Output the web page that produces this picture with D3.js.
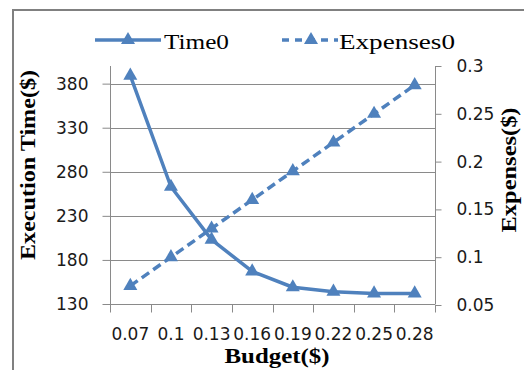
<!DOCTYPE html>
<html>
<head>
<meta charset="utf-8">
<script src="https://cdn.jsdelivr.net/npm/d3@7"></script>
<style>
  html, body { margin: 0; padding: 0; background: #fff; }
</style>
</head>
<body>
<div id="chart"></div>
<script>
const budgets = ["0.07", "0.1", "0.13", "0.16", "0.19", "0.22", "0.25", "0.28"];
const time0 = [389, 263, 203, 167, 149, 144, 142, 142];
const expenses0 = [0.07, 0.1, 0.13, 0.16, 0.19, 0.22, 0.25, 0.28];
const timeTicks = [130, 180, 230, 280, 330, 380];
const expenseTicks = [0.05, 0.1, 0.15, 0.2, 0.25, 0.3];

let width = 524, height = 370
let color = "#4f81bd"
let gridColor = "#8a8a8a"

// plot area
let pLeft = 110, pRight = 435, pTop = 66, pBottom = 304

let svg = d3.select("#chart").append("svg")
  .attr("width", width).attr("height", height)

// frame (only left and top edges are visible)
svg.append("path")
  .attr("d", `M13,370 L13,10 L524,10`)
  .attr("fill", "none").attr("stroke", "#808080").attr("stroke-width", 2)

let x = d3.scaleBand().domain(budgets).range([pLeft, pRight]).padding(0)
let cx = d => x(d) + x.bandwidth() / 2
let yL = d3.scaleLinear().domain([130, 400]).range([pBottom, pTop])
let yR = d3.scaleLinear().domain([0.05, 0.3]).range([pBottom + 1, pTop])

// gridlines
svg.append("g").selectAll("line").data(timeTicks.slice(1)).join("line")
  .attr("x1", pLeft).attr("x2", pRight)
  .attr("y1", d => Math.round(yL(d)) + 0.5).attr("y2", d => Math.round(yL(d)) + 0.5)
  .attr("stroke", gridColor).attr("stroke-width", 1)

let tickFont = "'DejaVu Sans', sans-serif"
let tickSize = 17

// left axis
let axL = svg.append("g").attr("transform", `translate(${pLeft + 0.5},0)`)
  .call(d3.axisLeft(yL).tickValues(timeTicks).tickSize(8).tickPadding(14).tickFormat(d3.format("d")))
axL.select(".domain").attr("d", `M0,${pTop}V${pBottom}`).attr("stroke", gridColor)
axL.selectAll(".tick line").attr("stroke", gridColor)
axL.selectAll("text").attr("font-family", tickFont).attr("font-size", tickSize).attr("fill", "#1a1a1a")

// right axis
let axR = svg.append("g").attr("transform", `translate(${pRight + 0.5},0)`)
  .call(d3.axisRight(yR).tickValues(expenseTicks).tickSize(6).tickPadding(15).tickFormat(d => String(+d.toFixed(2))))
axR.select(".domain").attr("d", `M0,${pTop}V${pBottom}`).attr("stroke", gridColor)
axR.selectAll(".tick line").attr("stroke", gridColor)
axR.selectAll("text").attr("font-family", tickFont).attr("font-size", tickSize).attr("fill", "#1a1a1a")

// bottom axis
let axB = svg.append("g").attr("transform", `translate(0,${pBottom + 0.5})`)
  .call(d3.axisBottom(x).tickSize(0).tickPadding(23))
axB.select(".domain").attr("d", `M${pLeft},0H${pRight}`).attr("stroke", gridColor)
axB.selectAll("text").attr("font-family", tickFont).attr("font-size", tickSize).attr("fill", "#1a1a1a")
// tick marks between categories
axB.append("g").selectAll("line").data(budgets.concat(["end"])).join("line")
  .attr("x1", (d, i) => Math.round(pLeft + i * x.bandwidth()) + 0.5)
  .attr("x2", (d, i) => Math.round(pLeft + i * x.bandwidth()) + 0.5)
  .attr("y1", 0).attr("y2", 8)
  .attr("stroke", gridColor)

// series
let tri = d3.symbol().type(d3.symbolTriangle).size(85)

let lineL = d3.line().x((d, i) => cx(budgets[i])).y(d => yL(d))
let lineR = d3.line().x((d, i) => cx(budgets[i])).y(d => yR(d))

svg.append("path").attr("d", lineR(expenses0))
  .attr("fill", "none").attr("stroke", color).attr("stroke-width", 3.5)
  .attr("stroke-dasharray", "9,5")
svg.append("g").selectAll("path").data(expenses0).join("path")
  .attr("d", tri)
  .attr("transform", (d, i) => `translate(${cx(budgets[i])},${yR(d)})`)
  .attr("fill", color)

svg.append("path").attr("d", lineL(time0))
  .attr("fill", "none").attr("stroke", color).attr("stroke-width", 3.5)
  .attr("stroke-linejoin", "round")
svg.append("g").selectAll("path").data(time0).join("path")
  .attr("d", tri)
  .attr("transform", (d, i) => `translate(${cx(budgets[i])},${yL(d)})`)
  .attr("fill", color)

// legend
let serif = "'Liberation Serif', 'Times New Roman', serif"
let legendY = 40
svg.append("line").attr("x1", 95).attr("x2", 161).attr("y1", legendY).attr("y2", legendY)
  .attr("stroke", color).attr("stroke-width", 3.5)
svg.append("path").attr("d", tri).attr("transform", `translate(128,${legendY})`).attr("fill", color)
svg.append("text").attr("x", 164).attr("y", 49)
  .attr("font-family", serif).attr("font-size", 21)
  .attr("textLength", 65).attr("lengthAdjust", "spacingAndGlyphs")
  .text("Time0")

svg.append("line").attr("x1", 282).attr("x2", 338).attr("y1", legendY).attr("y2", legendY)
  .attr("stroke", color).attr("stroke-width", 3.5).attr("stroke-dasharray", "7,6")
svg.append("path").attr("d", tri).attr("transform", `translate(311,${legendY})`).attr("fill", color)
svg.append("text").attr("x", 339).attr("y", 49)
  .attr("font-family", serif).attr("font-size", 21)
  .attr("textLength", 116).attr("lengthAdjust", "spacingAndGlyphs")
  .text("Expenses0")

// axis titles
svg.append("text").attr("x", 277).attr("y", 363)
  .attr("text-anchor", "middle")
  .attr("font-family", serif).attr("font-weight", "bold").attr("font-size", 20)
  .attr("textLength", 105).attr("lengthAdjust", "spacingAndGlyphs")
  .text("Budget($)")

svg.append("text").attr("transform", "translate(35,165) rotate(-90)")
  .attr("text-anchor", "middle")
  .attr("font-family", serif).attr("font-weight", "bold").attr("font-size", 20)
  .attr("textLength", 190).attr("lengthAdjust", "spacingAndGlyphs")
  .text("Execution Time($)")

svg.append("text").attr("transform", "translate(516,170) rotate(-90)")
  .attr("text-anchor", "middle")
  .attr("font-family", serif).attr("font-weight", "bold").attr("font-size", 20)
  .attr("textLength", 125).attr("lengthAdjust", "spacingAndGlyphs")
  .text("Expenses($)")
</script>
</body>
</html>
